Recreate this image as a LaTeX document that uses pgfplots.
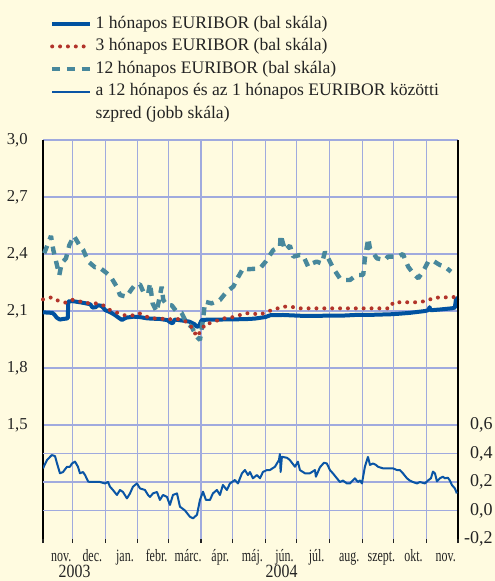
\documentclass[border=0pt]{standalone}
\usepackage{fontspec}
\setmainfont{Liberation Serif}
\newfontfamily\condfont[FakeStretch=0.69]{Liberation Serif}
\newfontfamily\yearfont[FakeStretch=0.85]{Liberation Serif}
\usepackage{pgfplots}
\pgfplotsset{compat=1.18}
\definecolor{bgc}{RGB}{255,251,224}
\definecolor{gridc}{RGB}{160,170,222}
\definecolor{onem}{RGB}{0,82,160}
\definecolor{threem}{RGB}{178,52,42}
\definecolor{twelvem}{RGB}{72,136,156}
\definecolor{spreadc}{RGB}{10,85,165}
\definecolor{txt}{RGB}{35,35,35}
\tikzset{
 s1/.style={onem, line width=3pt, line join=round},
 s3/.style={threem, line width=3pt, line cap=round, dash pattern=on 0pt off 5.9pt},
 s12/.style={twelvem, line width=3.3pt, line join=bevel, dash pattern=on 6pt off 5pt},
 ssp/.style={spreadc, line width=1.5pt, line join=round},
}
\begin{document}
\begin{tikzpicture}
\fill[bgc] (0,0) rectangle (371.25pt,435.75pt);
\useasboundingbox (0,0) rectangle (371.25pt,435.75pt);
\begin{axis}[
  at={(32.25pt,31.5pt)}, anchor=south west,
  scale only axis, width=311.25pt, height=299.25pt,
  xmin=2, xmax=396, ymin=0.9, ymax=3.0,
  clip=false,
  separate axis lines,
  x axis line style={draw=none},
  y axis line style={black, line width=0.9pt},
  xtick={2,30,61,92,121,152,182,213,243,274,305,335,366,396},
  xticklabels={},
  xtick pos=bottom, tick align=outside, major tick length=3pt,
  xtick style={txt, line width=0.8pt},
  xmajorgrids, ymajorgrids,
  grid style={gridc, line width=0.9pt},
  extra x ticks={19.3,48.8,79.8,109.8,139.8,170.3,200.8,231.3,261.8,292.8,323.3,353.8,384.3},
  extra x tick labels={nov.,dec.,jan.,febr.,márc.,ápr.,máj.,jún.,júl.,aug.,szept.,okt.,nov.},
  extra x tick style={grid=none, major tick length=0pt},
  xticklabel style={font=\condfont\fontsize{13}{15}\selectfont, text=txt, anchor=base, yshift=-16.5pt},
  ytick={1.5,1.8,2.1,2.4,2.7,3.0},
  yticklabels={{1,5},{1,8},{2,1},{2,4},{2,7},{3,0}},
  ytick pos=left,
  ytick style={draw=none},
  extra y ticks={1.05,1.2,1.35},
  extra y tick labels={},
  extra y tick style={grid=major},
  yticklabel style={font=\fontsize{12.5}{14}\selectfont, text=txt, anchor=east, inner xsep=0pt, xshift=-8.25pt},
  legend style={at={(axis description cs:0,1)}, anchor=north west, xshift=5.05pt, yshift=94.5pt,
     draw=none, fill=none, inner sep=0pt, row sep=2.4pt, column sep=2.5pt,
     font=\fontsize{13.2}{15}\selectfont, text=txt,
     nodes={inner xsep=0pt, inner ysep=1pt, text height=9.5pt, text depth=3pt}},
  legend cell align=left,
  legend image code/.code={\draw[#1] (0pt,0pt) -- (28.5pt,0pt);},
]
\addplot[s1, forget plot] coordinates {
(2,2.093)(11,2.09)(13,2.08)(15,2.065)(18,2.055)(21,2.058)(24,2.06)(25.5,2.062)(26,2.15)(30,2.152)(37,2.146)(43,2.14)(47,2.135)(49,2.118)(52,2.12)(54,2.13)(57,2.128)(59,2.118)(61,2.105)(66,2.093)(70,2.08)(75,2.06)(77,2.053)(81,2.065)(88,2.07)(94,2.068)(100,2.062)(104,2.06)(113,2.058)(120,2.052)(123,2.04)(125,2.035)(127,2.055)(134,2.05)(141,2.044)(146,2.03)(148,2.017)(150,2.02)(152,2.045)(153,2.053)(161,2.055)(170,2.055)(180,2.056)(194,2.057)(203,2.06)(213,2.068)(218,2.078)(230,2.079)(246,2.075)(260,2.074)(275,2.076)(284,2.075)(298,2.079)(315,2.08)(333,2.083)(341,2.086)(350,2.09)(365,2.10)(368,2.105)(369,2.12)(370,2.104)(379,2.108)(390,2.114)(393,2.118)(394,2.16)(396,2.17)
};
\addplot[s12, forget plot] coordinates {
(3.2,2.404)(9.6,2.495)(11.8,2.421)(17.5,2.289)(19.7,2.351)(23.8,2.377)(27,2.447)(31.4,2.495)(36.5,2.447)(40.2,2.421)(45,2.36)(51.4,2.33)(54.5,2.333)(60.8,2.307)(66.3,2.28)(72,2.228)(75.1,2.184)(81.4,2.175)(85.5,2.21)(89.3,2.237)(94.1,2.24)(97.9,2.193)(101.9,2.193)(103.6,2.246)(106.1,2.14)(109.9,2.096)(114.7,2.228)(116.2,2.158)(119.4,2.132)(124.2,2.13)(128.9,2.096)(133.6,2.09)(138.4,2.035)(143.1,2.017)(147.9,1.965)(151,1.947)(154.1,2.061)(155.8,2.149)(162.1,2.14)(170,2.158)(176.4,2.202)(182.6,2.228)(187.4,2.28)(192.1,2.325)(196.9,2.32)(208,2.324)(213.4,2.36)(220.6,2.421)(227,2.438)(227.6,2.5)(231.7,2.42)(236.4,2.444)(239.6,2.386)(245.9,2.395)(249.1,2.39)(253.8,2.333)(257.3,2.35)(261.8,2.36)(266.8,2.35)(269.7,2.412)(274.4,2.36)(277.5,2.325)(283.9,2.272)(288.6,2.263)(293.4,2.263)(299.7,2.289)(306,2.29)(307.6,2.377)(310.8,2.482)(312.4,2.43)(319,2.377)(326.6,2.368)(329.4,2.386)(338.9,2.386)(343.7,2.40)(348.7,2.333)(353.5,2.298)(358.2,2.272)(362.7,2.307)(367.7,2.36)(372.4,2.364)(378.8,2.342)(383.6,2.333)(389.3,2.307)
};
\addplot[s3, forget plot] coordinates {
(2,2.161)(10.3,2.172)(16.5,2.154)(23.5,2.144)(30.2,2.159)(37.8,2.149)(45.9,2.14)(53.5,2.14)(59.9,2.128)(65.6,2.105)(72.9,2.09)(79.8,2.077)(87.1,2.077)(93.4,2.088)(100.4,2.07)(107.4,2.061)(114,2.061)(119.4,2.053)(125.7,2.06)(132,2.056)(137.7,2.044)(144.1,2.009)(147.9,1.965)(152.6,2.0)(156.4,2.035)(159.8,2.035)(166.9,2.049)(173.1,2.061)(179.5,2.064)(186.4,2.074)(193.7,2.088)(200,2.088)(208,2.08)(214.9,2.097)(222.2,2.109)(229.5,2.123)(237.1,2.123)(245,2.114)(331.4,2.114)(334.5,2.146)(357.9,2.146)(366.2,2.153)(373.1,2.17)(396,2.174)
};
\addlegendimage{s1}\addlegendentry{1 hónapos EURIBOR (bal skála)}
\addlegendimage{s3}\addlegendentry{3 hónapos EURIBOR (bal skála)}
\addlegendimage{s12}\addlegendentry{12 hónapos EURIBOR (bal skála)}
\addlegendimage{ssp}\addlegendentry{a 12 hónapos és az 1 hónapos EURIBOR közötti}
\addlegendimage{empty legend}\addlegendentry{szpred (jobb skála)}
\node[font=\yearfont\fontsize{14}{16}\selectfont, text=txt, anchor=base, yshift=-28.8pt] at (axis cs:32,0.9) {2003};
\node[font=\yearfont\fontsize{14}{16}\selectfont, text=txt, anchor=base, yshift=-28.8pt] at (axis cs:228.5,0.9) {2004};
\end{axis}
\begin{axis}[
  at={(32.25pt,31.5pt)}, anchor=south west,
  scale only axis, width=311.25pt, height=299.25pt,
  xmin=2, xmax=396, ymin=-0.2, ymax=2.6,
  axis x line=none, axis y line*=right,
  y axis line style={black, line width=0.9pt},
  ytick={-0.2,0,0.2,0.4,0.6},
  yticklabels={{-0,2},{0,0},{0,2},{0,4},{0,6}},
  ytick style={draw=none},
  yticklabel style={font=\fontsize{13.5}{15}\selectfont, text=txt, anchor=east, inner xsep=0pt, xshift=26.25pt},
]
\addplot[ssp] coordinates {
(2,0.296)(5.8,0.354)(10.3,0.389)(13.4,0.382)(15.3,0.331)(18.1,0.261)(21,0.27)(24.8,0.307)(27.6,0.307)(29.5,0.33)(32.4,0.343)(35.2,0.307)(37.1,0.261)(40,0.27)(41.9,0.249)(45,0.202)(49.5,0.2)(56.1,0.2)(60.8,0.19)(63.7,0.2)(65.6,0.167)(68.4,0.144)(72.2,0.109)(75.1,0.144)(77.9,0.13)(81.7,0.085)(84.6,0.12)(87.4,0.167)(91.2,0.19)(94.1,0.155)(98.8,0.144)(101.7,0.109)(103.6,0.095)(106.4,0.12)(110.2,0.13)(113,0.074)(115.9,0.109)(119.7,0.095)(122.5,0.039)(125.4,0.109)(129.2,0.12)(132,0.027)(136.8,0.0)(141.5,-0.044)(144.4,-0.055)(148.2,-0.03)(151,0.074)(153.9,0.132)(156.7,0.074)(160.5,0.074)(163.3,0.12)(167.1,0.144)(170,0.109)(172.8,0.179)(176.6,0.144)(179.5,0.19)(184.2,0.214)(187.1,0.19)(190.9,0.261)(193.7,0.284)(196.6,0.249)(198.5,0.27)(201.3,0.226)(205.1,0.249)(208,0.226)(210.8,0.27)(214.6,0.284)(217.5,0.284)(222.2,0.307)(226,0.354)(226.9,0.396)(227.6,0.27)(228.8,0.377)(233.6,0.37)(236.4,0.354)(241.2,0.307)(244,0.343)(245.9,0.284)(250.7,0.261)(255.4,0.261)(260.2,0.284)(261.1,0.237)(264.9,0.303)(268.7,0.335)(271.5,0.33)(274.4,0.284)(277.2,0.261)(281,0.226)(283.9,0.2)(286.7,0.21)(290.5,0.19)(293.4,0.19)(298.1,0.226)(301,0.2)(302.9,0.21)(304.8,0.19)(307.6,0.307)(310.5,0.376)(312.4,0.32)(315.2,0.33)(318.1,0.32)(320,0.307)(324.7,0.296)(329.4,0.296)(334.2,0.296)(338,0.284)(340.8,0.284)(343.7,0.261)(347.5,0.226)(350.3,0.21)(353.2,0.2)(357,0.19)(359.8,0.2)(364.6,0.19)(367.4,0.21)(370.3,0.226)(372.2,0.273)(374.1,0.261)(376,0.204)(378.8,0.226)(381.7,0.237)(383.5,0.226)(386.4,0.23)(388.3,0.21)(390.2,0.179)(393,0.155)(394.9,0.12)
};
\end{axis}
\end{tikzpicture}
\end{document}
